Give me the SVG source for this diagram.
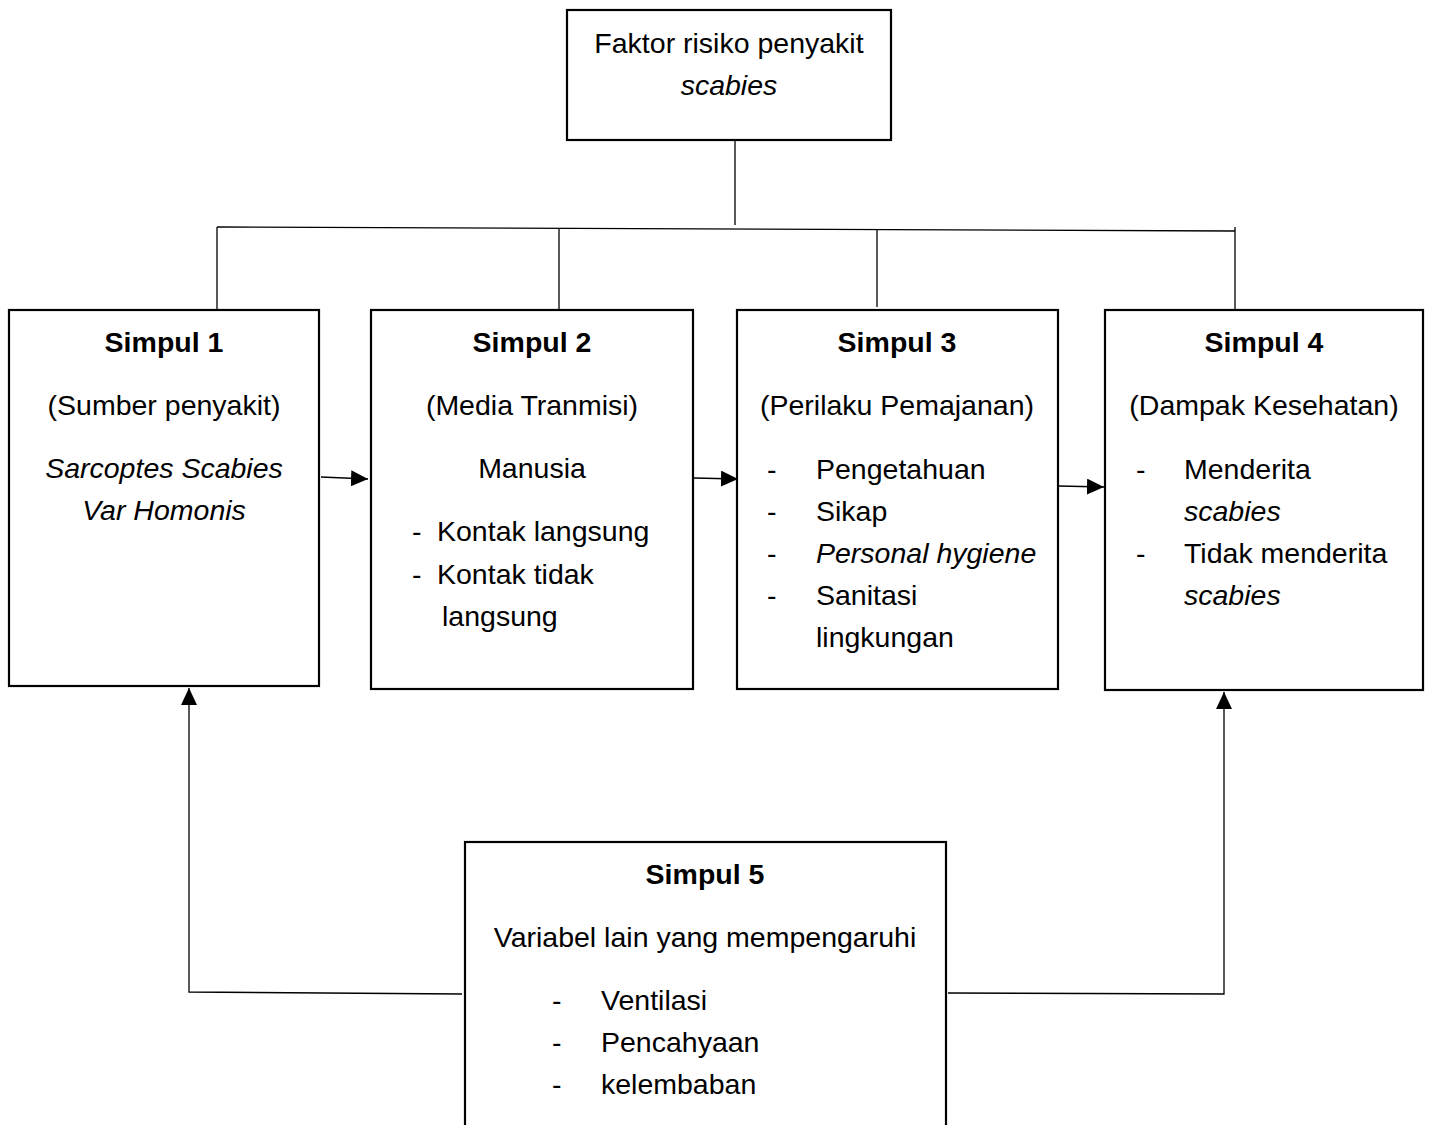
<svg xmlns="http://www.w3.org/2000/svg" width="1431" height="1125" viewBox="0 0 1431 1125">
<defs>
<marker id="ah" viewBox="0 0 17 16" refX="17" refY="8" markerWidth="17" markerHeight="16" markerUnits="userSpaceOnUse" orient="auto">
<path d="M0,0 L17,8 L0,16 Z" fill="#000"/>
</marker>
</defs>
<style>
.box{fill:#fff;stroke:#000;stroke-width:2.2}
.t{font-family:"Liberation Sans",Arial,sans-serif;font-size:28.5px;fill:#000}
.c{text-anchor:middle}
.b{font-weight:bold}
.i{font-style:italic}
.ln{fill:none;stroke:#000;stroke-width:1.3}
</style>
<rect width="1431" height="1125" fill="#fff"/>
<g id="connectors">
<line class="ln" x1="735" y1="140" x2="735" y2="225"/>
<line class="ln" x1="217" y1="227" x2="1235" y2="231"/>
<line class="ln" x1="217" y1="227" x2="217" y2="309"/>
<line class="ln" x1="559" y1="229" x2="559" y2="309"/>
<line class="ln" x1="877" y1="230" x2="877" y2="307"/>
<line class="ln" x1="1235" y1="227" x2="1235" y2="309"/>
<line class="ln" x1="321" y1="477" x2="368" y2="479" marker-end="url(#ah)"/>
<line class="ln" x1="694" y1="478" x2="738" y2="479" marker-end="url(#ah)"/>
<line class="ln" x1="1059" y1="486" x2="1104" y2="487" marker-end="url(#ah)"/>
<polyline class="ln" points="462,994 189,992 189,688" marker-end="url(#ah)"/>
<polyline class="ln" points="948,993 1224,994 1224,692" marker-end="url(#ah)"/>
</g>
<g id="top">
<rect class="box" x="567" y="10" width="324" height="130"/>
<text class="t c" x="729" y="53">Faktor risiko penyakit</text>
<text class="t c i" x="729" y="95">scabies</text>
</g>
<g id="simpul1">
<rect class="box" x="9" y="310" width="310" height="376"/>
<text class="t c b" x="164" y="352">Simpul 1</text>
<text class="t c" x="164" y="415">(Sumber penyakit)</text>
<text class="t c i" x="164" y="478">Sarcoptes Scabies</text>
<text class="t c i" x="164" y="520">Var Homonis</text>
</g>
<g id="simpul2">
<rect class="box" x="371" y="310" width="322" height="379"/>
<text class="t c b" x="532" y="352">Simpul 2</text>
<text class="t c" x="532" y="415">(Media Tranmisi)</text>
<text class="t c" x="532" y="478">Manusia</text>
<text class="t" x="412" y="541">-</text>
<text class="t" x="437" y="541">Kontak langsung</text>
<text class="t" x="412" y="584">-</text>
<text class="t" x="437" y="584">Kontak tidak</text>
<text class="t" x="442" y="626">langsung</text>
</g>
<g id="simpul3">
<rect class="box" x="737" y="310" width="321" height="379"/>
<text class="t c b" x="897" y="352">Simpul 3</text>
<text class="t c" x="897" y="415">(Perilaku Pemajanan)</text>
<text class="t" x="767" y="479">-</text>
<text class="t" x="816" y="479">Pengetahuan</text>
<text class="t" x="767" y="521">-</text>
<text class="t" x="816" y="521">Sikap</text>
<text class="t" x="767" y="563">-</text>
<text class="t i" x="816" y="563">Personal hygiene</text>
<text class="t" x="767" y="605">-</text>
<text class="t" x="816" y="605">Sanitasi</text>
<text class="t" x="816" y="647">lingkungan</text>
</g>
<g id="simpul4">
<rect class="box" x="1105" y="310" width="318" height="380"/>
<text class="t c b" x="1264" y="352">Simpul 4</text>
<text class="t c" x="1264" y="415">(Dampak Kesehatan)</text>
<text class="t" x="1136" y="479">-</text>
<text class="t" x="1184" y="479">Menderita</text>
<text class="t i" x="1184" y="521">scabies</text>
<text class="t" x="1136" y="563">-</text>
<text class="t" x="1184" y="563">Tidak menderita</text>
<text class="t i" x="1184" y="605">scabies</text>
</g>
<g id="simpul5">
<rect class="box" x="465" y="842" width="481" height="300"/>
<text class="t c b" x="705" y="884">Simpul 5</text>
<text class="t c" x="705" y="947">Variabel lain yang mempengaruhi</text>
<text class="t" x="552" y="1010">-</text>
<text class="t" x="601" y="1010">Ventilasi</text>
<text class="t" x="552" y="1052">-</text>
<text class="t" x="601" y="1052">Pencahyaan</text>
<text class="t" x="552" y="1094">-</text>
<text class="t" x="601" y="1094">kelembaban</text>
</g>
</svg>
